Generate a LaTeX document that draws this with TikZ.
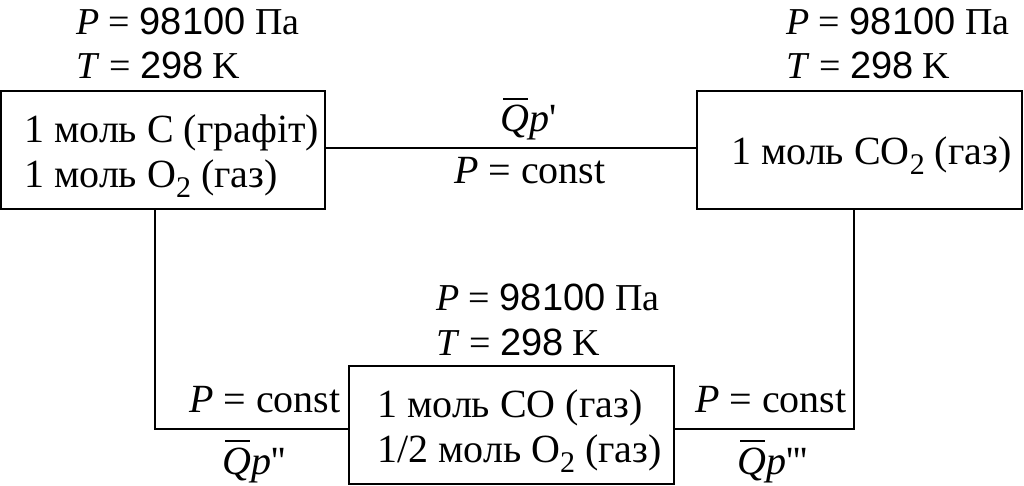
\documentclass[tikz,border=0pt]{standalone}
\usepackage{fontspec}
\setmainfont{Liberation Serif}
\newfontfamily\lsans{Liberation Sans}
\newfontfamily\plainserif{Liberation Serif}
\newcommand{\sbt}[1]{\raisebox{-0.25em}{\fontsize{30}{30}\selectfont #1}}
\newcommand{\qbar}{\mbox{\rlap{\raisebox{0.8em}{\kern0.08em\rule{0.62em}{1.6pt}}}\textit{Qp}}}
\begin{document}
\begin{tikzpicture}[x=1pt,y=-1pt,
  lbl/.style={anchor=base west,inner sep=0pt,font=\fontsize{40}{46}\selectfont},
  hdr/.style={anchor=base west,inner sep=0pt,font=\fontsize{38}{44}\selectfont},
  box/.style={draw,line width=2pt},
  conn/.style={line width=2pt}]
\useasboundingbox (0,0) rectangle (1024,486);
% boxes
\draw[box] (1,91) rectangle (325,209);
\draw[box] (697,91) rectangle (1022,209);
\draw[box] (349,366) rectangle (674,484);
\coordinate (A) at (325,148);
\coordinate (B) at (697,148);
\coordinate (Ab) at (155,209);
\coordinate (Bb) at (854,209);
\coordinate (Cl) at (349,429);
\coordinate (Cr) at (674,429);
\draw[conn] (A) -- (B);
\draw[conn] (Ab) |- (Cl);
\draw[conn] (Bb) |- (Cr);
% box texts
\node[lbl] (a1) at (24,143) {1 моль C (графіт)};
\node[lbl] (a2) at (24,188) {1 моль O\sbt{2} (газ)};
\node[lbl] (b1) at (731,165) {1 моль CO\sbt{2} (газ)};
\node[lbl] (c1) at (377,417) {1 моль CO (газ)};
\node[lbl] (c2) at (377,462) {1/2 моль O\sbt{2} (газ)};
% state labels
\node[hdr] (p1) at (76,35) {\textit{P} = {\lsans 98100} Па};
\node[hdr] (t1) at (76,79) {\textit{T} = {\lsans 298} K};
\node[hdr] (p2) at (786,35) {\textit{P} = {\lsans 98100} Па};
\node[hdr] (t2) at (786,79) {\textit{T} = {\lsans 298} K};
\node[hdr] (p3) at (436,310) {\textit{P} = {\lsans 98100} Па};
\node[hdr] (t3) at (436,355) {\textit{T} = {\lsans 298} K};
% path labels
\node[lbl] (q1) at (500,132) {\qbar{\plainserif '}};
\node[lbl] (k1) at (454,184) {\textit{P} = const};
\node[lbl] (k2) at (189,412) {\textit{P} = const};
\node[lbl] (q2) at (222,474) {\qbar{\plainserif ''}};
\node[lbl] (k3) at (695,412) {\textit{P} = const};
\node[lbl] (q3) at (737,474) {\qbar{\plainserif '''}};
\end{tikzpicture}
\end{document}
